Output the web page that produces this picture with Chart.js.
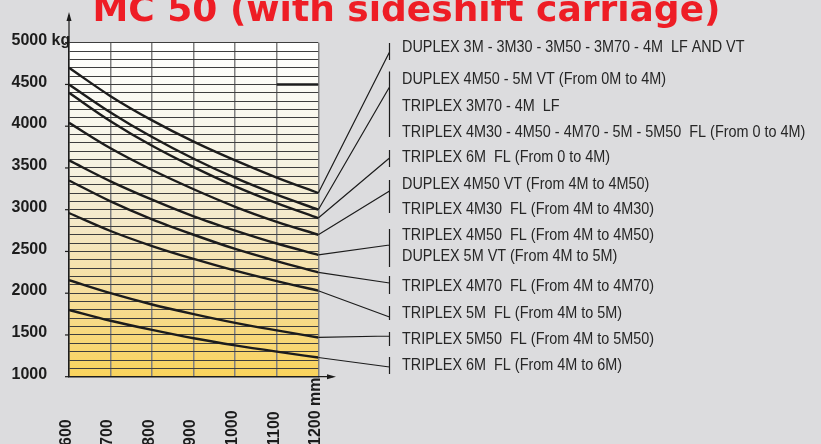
<!DOCTYPE html>
<html>
<head>
<meta charset="utf-8">
<title>MC 50 (with sideshift carriage)</title>
<script src="https://cdn.jsdelivr.net/npm/chart.js@4.4.1/dist/chart.umd.min.js"></script>
<style>
  html, body { margin: 0; padding: 0; background: #dcdcde; }
  #wrap { width: 821px; height: 444px; position: relative; }
</style>
</head>
<body>
<div id="wrap"><canvas id="capacityChart"></canvas></div>
<script>
// load centre (mm)
const loadCentres = [600, 700, 800, 900, 1000, 1100, 1200];

// residual capacity (kg) for each mast
const capDuplex3M       = [4700, 4360, 4070, 3815, 3590, 3385, 3200];
const capDuplex4M50To4M = [4500, 4165, 3870, 3610, 3380, 3180, 3000];
const capTriplex6MTo4M  = [4400, 4060, 3765, 3510, 3280, 3080, 2900];
const capDuplex4M50VT   = [4040, 3735, 3475, 3245, 3035, 2855, 2700];
const capTriplex4M50FL  = [3590, 3340, 3120, 2920, 2750, 2595, 2460];
const capTriplex4M70FL  = [3350, 3100, 2885, 2700, 2530, 2385, 2250];
const capTriplex5MFL    = [2960, 2745, 2565, 2410, 2270, 2145, 2030];
const capTriplex5M50FL  = [2155, 2000, 1865, 1750, 1645, 1555, 1470];
const capTriplex6MFL    = [1800, 1670, 1560, 1460, 1375, 1300, 1230];

// short heavy mark at 4500 kg
const limitCentres = [1100, 1200];
const limitValues  = [4500, 4500];

const yTickValues = [5000, 4500, 4000, 3500, 3000, 2500, 2000, 1500, 1000];
const yTickLabels = ['5000 kg', '4500', '4000', '3500', '3000', '2500', '2000', '1500', '1000'];
const xTickLabels = ['600', '700', '800', '900', '1000', '1100', '1200 mm'];

const curves = [capDuplex3M, capDuplex4M50To4M, capTriplex6MTo4M, capDuplex4M50VT,
                capTriplex4M50FL, capTriplex4M70FL, capTriplex5MFL, capTriplex5M50FL, capTriplex6MFL];

const legendGroups = [
  ['DUPLEX 3M - 3M30 - 3M50 - 3M70 - 4M  LF AND VT'],
  ['DUPLEX 4M50 - 5M VT (From 0M to 4M)', 'TRIPLEX 3M70 - 4M  LF', 'TRIPLEX 4M30 - 4M50 - 4M70 - 5M - 5M50  FL (From 0 to 4M)'],
  ['TRIPLEX 6M  FL (From 0 to 4M)'],
  ['DUPLEX 4M50 VT (From 4M to 4M50)', 'TRIPLEX 4M30  FL (From 4M to 4M30)'],
  ['TRIPLEX 4M50  FL (From 4M to 4M50)', 'DUPLEX 5M VT (From 4M to 5M)'],
  ['TRIPLEX 4M70  FL (From 4M to 4M70)'],
  ['TRIPLEX 5M  FL (From 4M to 5M)'],
  ['TRIPLEX 5M50  FL (From 4M to 5M50)'],
  ['TRIPLEX 6M  FL (From 4M to 6M)']
];

// --- layout of the side legend (pixels) ---
const bracketX = 389.5;
const textX = 402;
const legendTextY = [[48], [80, 106.5, 133], [158], [185, 210], [235.5, 256.5], [287], [314], [340], [366]];
const bracketSpan = [[43, 60], [71.5, 137], [150, 167], [180, 213], [229, 267], [276, 294], [306, 320], [332, 346], [357, 374]];
const leaderEndY = [52, 87, 158, 191, 245, 283, 317, 336, 367];

const LINE = '#1c1c1c';

const backdrop = {
  id: 'backdrop',
  beforeDraw(chart) {
    const { ctx, chartArea: a } = chart;
    ctx.save();
    ctx.fillStyle = '#dcdcde';
    ctx.fillRect(0, 0, chart.width, chart.height);
    const g = ctx.createLinearGradient(0, a.top, 0, a.bottom);
    g.addColorStop(0, '#ffffff');
    g.addColorStop(0.1, '#fcfcf7');
    g.addColorStop(0.35, '#f6f3e3');
    g.addColorStop(0.55, '#f4e8c6');
    g.addColorStop(0.75, '#f6de9c');
    g.addColorStop(1, '#f9d35c');
    ctx.fillStyle = g;
    ctx.fillRect(a.left, a.top, a.right - a.left, a.bottom - a.top);
    ctx.restore();
  }
};

const decorations = {
  id: 'decorations',
  afterDraw(chart) {
    const { ctx, chartArea: a } = chart;
    const xs = chart.scales.x, ys = chart.scales.y;
    ctx.save();

    // axis arrows
    ctx.strokeStyle = LINE;
    ctx.fillStyle = LINE;
    ctx.lineWidth = 1.2;
    ctx.beginPath();
    ctx.moveTo(a.left, a.top);
    ctx.lineTo(a.left, 15);
    ctx.moveTo(a.right, a.bottom);
    ctx.lineTo(333, a.bottom);
    ctx.stroke();
    ctx.beginPath();
    ctx.moveTo(a.left, 12);
    ctx.lineTo(a.left - 2.5, 21);
    ctx.lineTo(a.left + 2.5, 21);
    ctx.closePath();
    ctx.fill();
    ctx.beginPath();
    ctx.moveTo(336, a.bottom);
    ctx.lineTo(327, a.bottom - 2.5);
    ctx.lineTo(327, a.bottom + 2.5);
    ctx.closePath();
    ctx.fill();

    // y ticks and labels
    ctx.font = 'bold 16px "Liberation Sans", Arial, sans-serif';
    ctx.textAlign = 'left';
    ctx.textBaseline = 'alphabetic';
    yTickValues.forEach((v, i) => {
      const y = ys.getPixelForValue(v);
      ctx.beginPath();
      ctx.moveTo(a.left - 4, y);
      ctx.lineTo(a.left, y);
      ctx.stroke();
      ctx.fillText(yTickLabels[i], 11.5, y + 2.2);
    });

    // x labels, rotated, reading upwards
    loadCentres.forEach((v, i) => {
      const x = xs.getPixelForValue(v);
      ctx.save();
      ctx.translate(x + 1.8, 446);
      ctx.rotate(-Math.PI / 2);
      ctx.fillText(xTickLabels[i], 0, 0);
      ctx.restore();
    });

    // title
    ctx.fillStyle = '#ee1d25';
    ctx.font = 'bold 36px "DejaVu Sans", Verdana, sans-serif';
    ctx.textAlign = 'center';
    ctx.fillText('MC 50 (with sideshift carriage)', 406.5, 20.7);

    // leader lines and brackets
    ctx.strokeStyle = LINE;
    ctx.lineWidth = 1.2;
    curves.forEach((c, i) => {
      const y0 = ys.getPixelForValue(c[c.length - 1]);
      ctx.beginPath();
      ctx.moveTo(a.right, y0);
      ctx.lineTo(bracketX, leaderEndY[i]);
      ctx.moveTo(bracketX, bracketSpan[i][0]);
      ctx.lineTo(bracketX, bracketSpan[i][1]);
      ctx.stroke();
    });

    // legend text, condensed
    ctx.fillStyle = '#262626';
    ctx.font = '16px "Liberation Sans", Arial, sans-serif';
    ctx.textAlign = 'left';
    ctx.textBaseline = 'middle';
    legendGroups.forEach((group, i) => {
      group.forEach((txt, j) => {
        ctx.save();
        ctx.translate(textX, legendTextY[i][j]);
        ctx.scale(0.9, 1);
        ctx.fillText(txt, 0, 0);
        ctx.restore();
      });
    });

    ctx.restore();
  }
};

const datasets = curves.map(c => ({
  data: loadCentres.map((x, i) => ({ x: x, y: c[i] })),
  borderColor: LINE,
  borderWidth: 2.4,
  pointRadius: 0,
  cubicInterpolationMode: 'monotone',
  fill: false
}));
datasets.push({
  data: limitCentres.map((x, i) => ({ x: x, y: limitValues[i] })),
  borderColor: LINE,
  borderWidth: 2.4,
  pointRadius: 0,
  fill: false
});

new Chart(document.getElementById('capacityChart').getContext('2d'), {
  type: 'line',
  data: { datasets: datasets },
  options: {
    responsive: true,
    maintainAspectRatio: false,
    animation: false,
    layout: { padding: { left: 69, top: 42.7, right: 502.7, bottom: 67.3 } },
    plugins: { legend: { display: false }, tooltip: { enabled: false } },
    scales: {
      x: {
        type: 'linear', min: 600, max: 1200,
        ticks: { display: false, stepSize: 100 },
        grid: { color: '#808080', lineWidth: 1.5, drawTicks: false },
        border: { display: true, color: LINE, width: 1.5 }
      },
      y: {
        type: 'linear', min: 1000, max: 5000,
        ticks: { display: false, stepSize: 100 },
        grid: { color: '#3e3e3e', lineWidth: 1, drawTicks: false },
        border: { display: true, color: LINE, width: 1.5 }
      }
    }
  },
  plugins: [backdrop, decorations]
});
</script>
</body>
</html>
